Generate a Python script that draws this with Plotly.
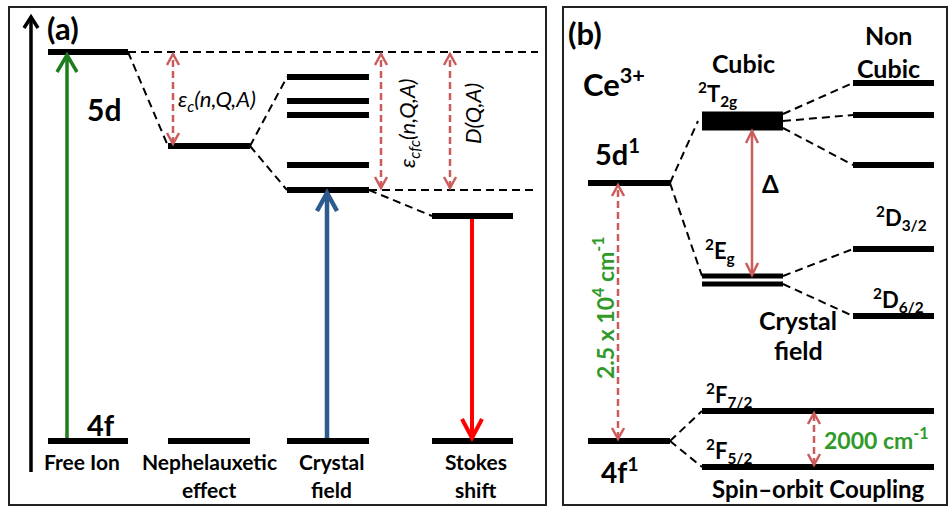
import plotly.graph_objects as go

# ---------------- data (energies in arbitrary units, 4f ground = 0) ----------------
# Panel (a): the lowest 5d level of a lanthanide ion, step by step
stages = ["Free Ion", "Nephelauxetic<br>effect", "Crystal<br>field", "Stokes<br>shift"]
ground_4f = 0
free_ion_5d = 389
nephelauxetic_5d = 295
crystal_field_5d = [364, 340, 326, 276, 251]
stokes_emitting = 225

# Panel (b): Ce3+ 4f1 / 5d1 splitting
ce_5d1 = 258
ce_4f1 = 0
cubic_t2g = 320            # centre of the 2T2g band
cubic_eg = [165, 157]
noncubic_t2g = [358, 326, 276]
noncubic_eg = [192, 125]   # 2D3/2, 2D6/2
spin_orbit = [30, -26]     # 2F7/2, 2F5/2

# ---------------- styling ----------------
FONT = "Lato"
BLACK = "black"
GREEN_TXT = "#2f9a2a"
GREEN_ARR = "#1e7d1e"
BLUE = "#2e5b8e"
RED = "#ff0000"
PINK = "#cc5c5c"
LEVEL_W = 6
DASH_BLACK = "8px,5px"
DASH_RED = "7px,4px"

shapes = []
annotations = []


def seg(x0, e0, x1, e1, color=BLACK, width=2, dash=None):
    line = dict(color=color, width=width)
    if dash:
        line["dash"] = dash
    shapes.append(dict(type="line", xref="x", yref="y", x0=x0, y0=e0, x1=x1, y1=e1,
                       line=line, layer="above"))


def level(x0, x1, e, width=LEVEL_W):
    seg(x0, e, x1, e, width=width)


def head(x, e, direction, color, width, hw, hh):
    # open V head with its tip at (x, e); direction +1 points up, -1 down
    b = e - direction * hh
    shapes.append(dict(type="path", xref="x", yref="y",
                       path=f"M{x - hw},{b} L{x},{e} L{x + hw},{b}",
                       line=dict(color=color, width=width), layer="above"))


def arrow(x, e_from, e_to, color, width, hw, hh, dash=None, both=False):
    seg(x, e_from, x, e_to, color=color, width=width, dash=dash)
    d = 1 if e_to > e_from else -1
    head(x, e_to, d, color, width, hw, hh)
    if both:
        head(x, e_from, -d, color, width, hw, hh)


def text(x, e, s, size, color=BLACK, bold=True, italic=False, xanchor="center",
         yanchor="middle", angle=0):
    annotations.append(dict(x=x, y=e, xref="x", yref="y", text=s, showarrow=False,
                            xanchor=xanchor, yanchor=yanchor, textangle=angle,
                            font=dict(family=FONT, size=size, color=color,
                                      weight="bold" if bold else "normal",
                                      style="italic" if italic else "normal")))


# ---------------- panel frames ----------------
for x0, x1 in [(9, 546), (563, 947)]:
    shapes.append(dict(type="rect", xref="x", yref="y", x0=x0, x1=x1, y0=-64, y1=434,
                       line=dict(color="#222222", width=2), layer="below"))

# ---------------- panel (a) ----------------
cols = [(48, 128), (168, 250), (287, 369), (432, 513)]
centres = [(a + b) / 2 for a, b in cols]

# energy axis
arrow(31, -31, 424, BLACK, 3.5, 7, 11)
text(45, 413, "(a)", 31, xanchor="left")

# levels
level(*cols[0], free_ion_5d)
level(*cols[1], nephelauxetic_5d)
for e in crystal_field_5d:
    level(*cols[2], e)
level(*cols[3], stokes_emitting)
for c in cols:
    level(*c, ground_4f)

# correlation lines
seg(cols[0][1], free_ion_5d, 538, free_ion_5d, dash=DASH_BLACK)
seg(cols[0][1], free_ion_5d, cols[1][0], nephelauxetic_5d, dash=DASH_BLACK)
seg(cols[1][1], nephelauxetic_5d, cols[2][0], crystal_field_5d[0], dash=DASH_BLACK)
seg(cols[1][1], nephelauxetic_5d, cols[2][0], crystal_field_5d[-1], dash=DASH_BLACK)
seg(cols[2][1], crystal_field_5d[-1], 538, crystal_field_5d[-1], dash=DASH_BLACK)
seg(cols[2][1], crystal_field_5d[-1], cols[3][0], stokes_emitting, dash=DASH_BLACK)

# transitions
arrow(67, ground_4f + 3, free_ion_5d - 3, GREEN_ARR, 3.5, 10, 17)
arrow(327, ground_4f + 3, crystal_field_5d[-1] - 3, BLUE, 4.5, 10, 18)
arrow(472, stokes_emitting - 3, ground_4f + 3, RED, 4, 10, 19)

# energy differences
arrow(173, nephelauxetic_5d + 2, free_ion_5d - 2, PINK, 2.5, 6, 11, dash=DASH_RED, both=True)
arrow(381, crystal_field_5d[-1] + 2, free_ion_5d - 2, PINK, 2.5, 6, 11, dash=DASH_RED, both=True)
arrow(450, crystal_field_5d[-1] + 2, free_ion_5d - 2, PINK, 2.5, 6, 11, dash=DASH_RED, both=True)

text(176, 341, "ε<sub>c</sub>(n,Q,A)", 22, bold=False, italic=True, xanchor="left")
text(408, 318, "ε<sub>cfc</sub>(n,Q,A)", 22, bold=False, italic=True, angle=-90)
text(472, 327, "D(Q,A)", 22, bold=False, italic=True, angle=-90)

text(104, 332, "5d", 30)
text(101, 17, "4f", 29)

label_x = [82, centres[1], centres[2] + 3, centres[3] + 3]
for x, s in zip(label_x, stages):
    parts = s.split("<br>")
    for i, p in enumerate(parts):
        text(x, -20 - 28 * i, p, 21)

# ---------------- panel (b) ----------------
free_b = (588, 670)
cub_b = (702, 783)
non_b = (853, 934)
so_b = (702, 934)

text(566, 408, "(b)", 31, xanchor="left")
text(581, 359, "Ce<sup>3+</sup>", 31, xanchor="left")
text(593, 289, "5d<sup>1</sup>", 29, xanchor="left")
text(620, -29, "4f<sup>1</sup>", 28)

level(*free_b, ce_5d1)
level(*free_b, ce_4f1)

# cubic crystal field
shapes.append(dict(type="rect", xref="x", yref="y", x0=cub_b[0], x1=cub_b[1],
                   y0=cubic_t2g - 9.5, y1=cubic_t2g + 9.5,
                   fillcolor=BLACK, line=dict(width=0), layer="above"))
for e in cubic_eg:
    level(*cub_b, e, width=5)

seg(free_b[1], ce_5d1, cub_b[0] - 4, cubic_t2g, dash=DASH_BLACK)
seg(free_b[1], ce_5d1, cub_b[0], cubic_eg[0], dash=DASH_BLACK)

# non-cubic splitting
for e in noncubic_t2g:
    level(*non_b, e)
for e in noncubic_eg:
    level(*non_b, e)
for e0, e in zip([cubic_t2g + 7, cubic_t2g, cubic_t2g - 7], noncubic_t2g):
    seg(cub_b[1], e0, non_b[0], e, dash=DASH_BLACK)
seg(cub_b[1], cubic_eg[0], non_b[0], noncubic_eg[0], dash=DASH_BLACK)
seg(cub_b[1], cubic_eg[1], non_b[0], noncubic_eg[1], dash=DASH_BLACK)

# spin-orbit coupling of 4f1
for e in spin_orbit:
    level(*so_b, e)
seg(free_b[1], ce_4f1, so_b[0], spin_orbit[0], dash=DASH_BLACK)
seg(free_b[1], ce_4f1, so_b[0], spin_orbit[1], dash=DASH_BLACK)

# energy gaps
arrow(752, cubic_eg[0] + 1, cubic_t2g - 10, PINK, 2.5, 6, 12, both=True)
arrow(618, ce_4f1 + 2, ce_5d1 - 2, PINK, 2.5, 6, 11, dash=DASH_RED, both=True)
arrow(814, spin_orbit[1] + 2, spin_orbit[0] - 2, PINK, 2.5, 6, 11, dash=DASH_RED, both=True)

text(760, 258, "Δ", 24, xanchor="left")
text(743, 378, "Cubic", 25)
text(888, 406, "Non", 25)
text(888, 373, "Cubic", 25)
text(696, 347, "<sup>2</sup>T<sub>2g</sub>", 22, xanchor="left")
text(703, 190, "<sup>2</sup>E<sub>g</sub>", 22, xanchor="left")
text(874, 223, "<sup>2</sup>D<sub>3/2</sub>", 22, xanchor="left")
text(871, 141, "<sup>2</sup>D<sub>6/2</sub>", 22, xanchor="left")
text(798, 121, "Crystal", 25)
text(798, 91, "field", 25)
text(603, 133, "2.5 x 10<sup>4</sup> cm<sup>-1</sup>", 23, color=GREEN_TXT, angle=-90)
text(704, 46, "<sup>2</sup>F<sub>7/2</sub>", 22, xanchor="left")
text(704, -10, "<sup>2</sup>F<sub>5/2</sub>", 22, xanchor="left")
text(822, 3, "2000 cm<sup>-1</sup>", 23, color=GREEN_TXT, xanchor="left")
text(818, -47, "Spin–orbit Coupling", 24)

fig = go.Figure()
fig.update_layout(
    width=950, height=506,
    margin=dict(l=0, r=0, t=0, b=0),
    paper_bgcolor="white", plot_bgcolor="white",
    showlegend=False,
    xaxis=dict(range=[0, 950], visible=False, fixedrange=True),
    yaxis=dict(range=[-65, 441], visible=False, fixedrange=True),
    shapes=shapes,
    annotations=annotations,
)
fig.write_html("out.html")
